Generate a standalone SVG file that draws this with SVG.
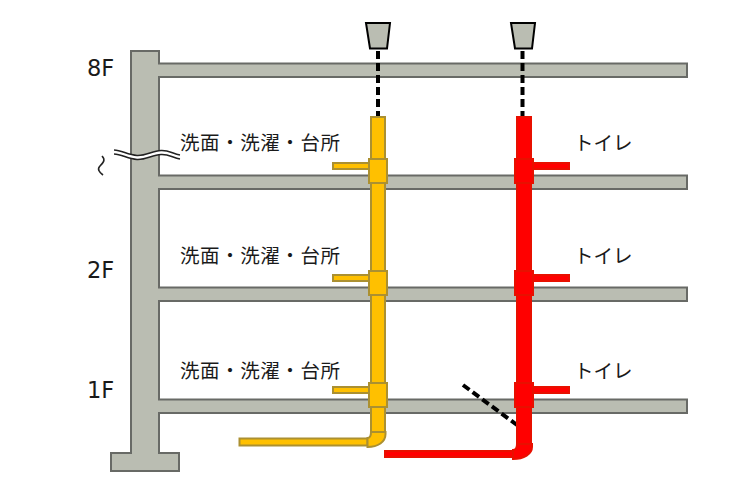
<svg xmlns="http://www.w3.org/2000/svg" width="740" height="504" viewBox="0 0 740 504">
<style>
.c{fill:#babdb2;stroke:#686a66;stroke-width:2}
.y{fill:#ffc000;stroke:#ab9031;stroke-width:2}
.r{fill:#ff0000;stroke:#e81000;stroke-width:2}
.t{font-family:"Noto Sans CJK JP",sans-serif;font-size:19.500px;fill:#1a1a1a}
.f{font-family:"DejaVu Sans",sans-serif;font-size:22.500px;fill:#1a1a1a}
.d{fill:none;stroke:#000;stroke-width:4;stroke-dasharray:8 4}
.w{fill:none;stroke:#222;stroke-width:1.6}
.cap{fill:#babdb2;stroke:#000;stroke-width:2}
</style>
<g id="structure">
<path class="c" d="M131 51H159V63.500H687V77H159V175.500H687V189H159V287.500H687V301H159V399.500H687V413H159V453H179V471H111V453H131Z"/>
</g>
<g id="break-marks">
<path d="M114 152C122 152.500 128 157 137 157.500C146 158 152 153 161 152.500C169 152 173 156 180 157" fill="none" stroke="#fff" stroke-width="4"/>
<path class="w" d="M114 150C122 150.500 128 155 137 155.500C146 156 152 151 161 150.500C169 150 173 154 180 155"/>
<path class="w" d="M114 154C122 154.500 128 159 137 159.500C146 160 152 155 161 154.500C169 154 173 158 180 159"/>
<path class="w" d="M102 156C106 160 103 163 100 166C97 169 99 172 103 175"/>
</g>
<g id="connectors">
<path class="d" d="M378 51V117"/>
<path class="d" d="M522.500 51V117"/>
<path class="d" d="M463 385L517 425"/>
</g>
<g id="vent-yellow"><path class="cap" d="M366 23H390L387 48.500H370Z"/></g>
<g id="vent-red"><path class="cap" d="M511 23H535L532 48.500H515Z"/></g>
<g id="pipe-yellow">
<rect class="y" x="371" y="117" width="14" height="316"/>
<rect class="y" x="239.500" y="438.500" width="128" height="7"/>
<path class="y" d="M371 432H385.500V434C385.500 442 378 447 367.500 447V438C369.500 438 371 436 371 432Z"/>
<rect class="y" x="333" y="163" width="36" height="6"/>
<rect class="y" x="333" y="275" width="36" height="6"/>
<rect class="y" x="333" y="387" width="36" height="6"/>
<rect class="y" x="369" y="159" width="18" height="24"/>
<rect class="y" x="369" y="271" width="18" height="24"/>
<rect class="y" x="369" y="383" width="18" height="24"/>
</g>
<g id="pipe-red">
<rect class="r" x="517" y="117" width="14" height="328"/>
<rect class="r" x="385" y="451" width="128" height="6"/>
<path class="r" d="M517 444H532V447C532 454 524 459 513 459V450C515 450 517 448 517 444Z"/>
<rect class="r" x="533" y="163" width="36" height="6"/>
<rect class="r" x="533" y="275" width="36" height="6"/>
<rect class="r" x="533" y="387" width="36" height="6"/>
<rect class="r" x="515" y="159" width="18" height="24"/>
<rect class="r" x="515" y="271" width="18" height="24"/>
<rect class="r" x="515" y="383" width="18" height="24"/>
</g>
<g id="labels">
<text class="f" x="87" y="76">8F</text>
<text class="f" x="87" y="278">2F</text>
<text class="f" x="87" y="398">1F</text>
<text class="t" x="180" y="150" textLength="160">洗面・洗濯・台所</text>
<text class="t" x="180" y="263" textLength="160">洗面・洗濯・台所</text>
<text class="t" x="180" y="378" textLength="160">洗面・洗濯・台所</text>
<text class="t" x="574" y="150">トイレ</text>
<text class="t" x="574" y="263">トイレ</text>
<text class="t" x="574" y="378">トイレ</text>
</g>
</svg>
